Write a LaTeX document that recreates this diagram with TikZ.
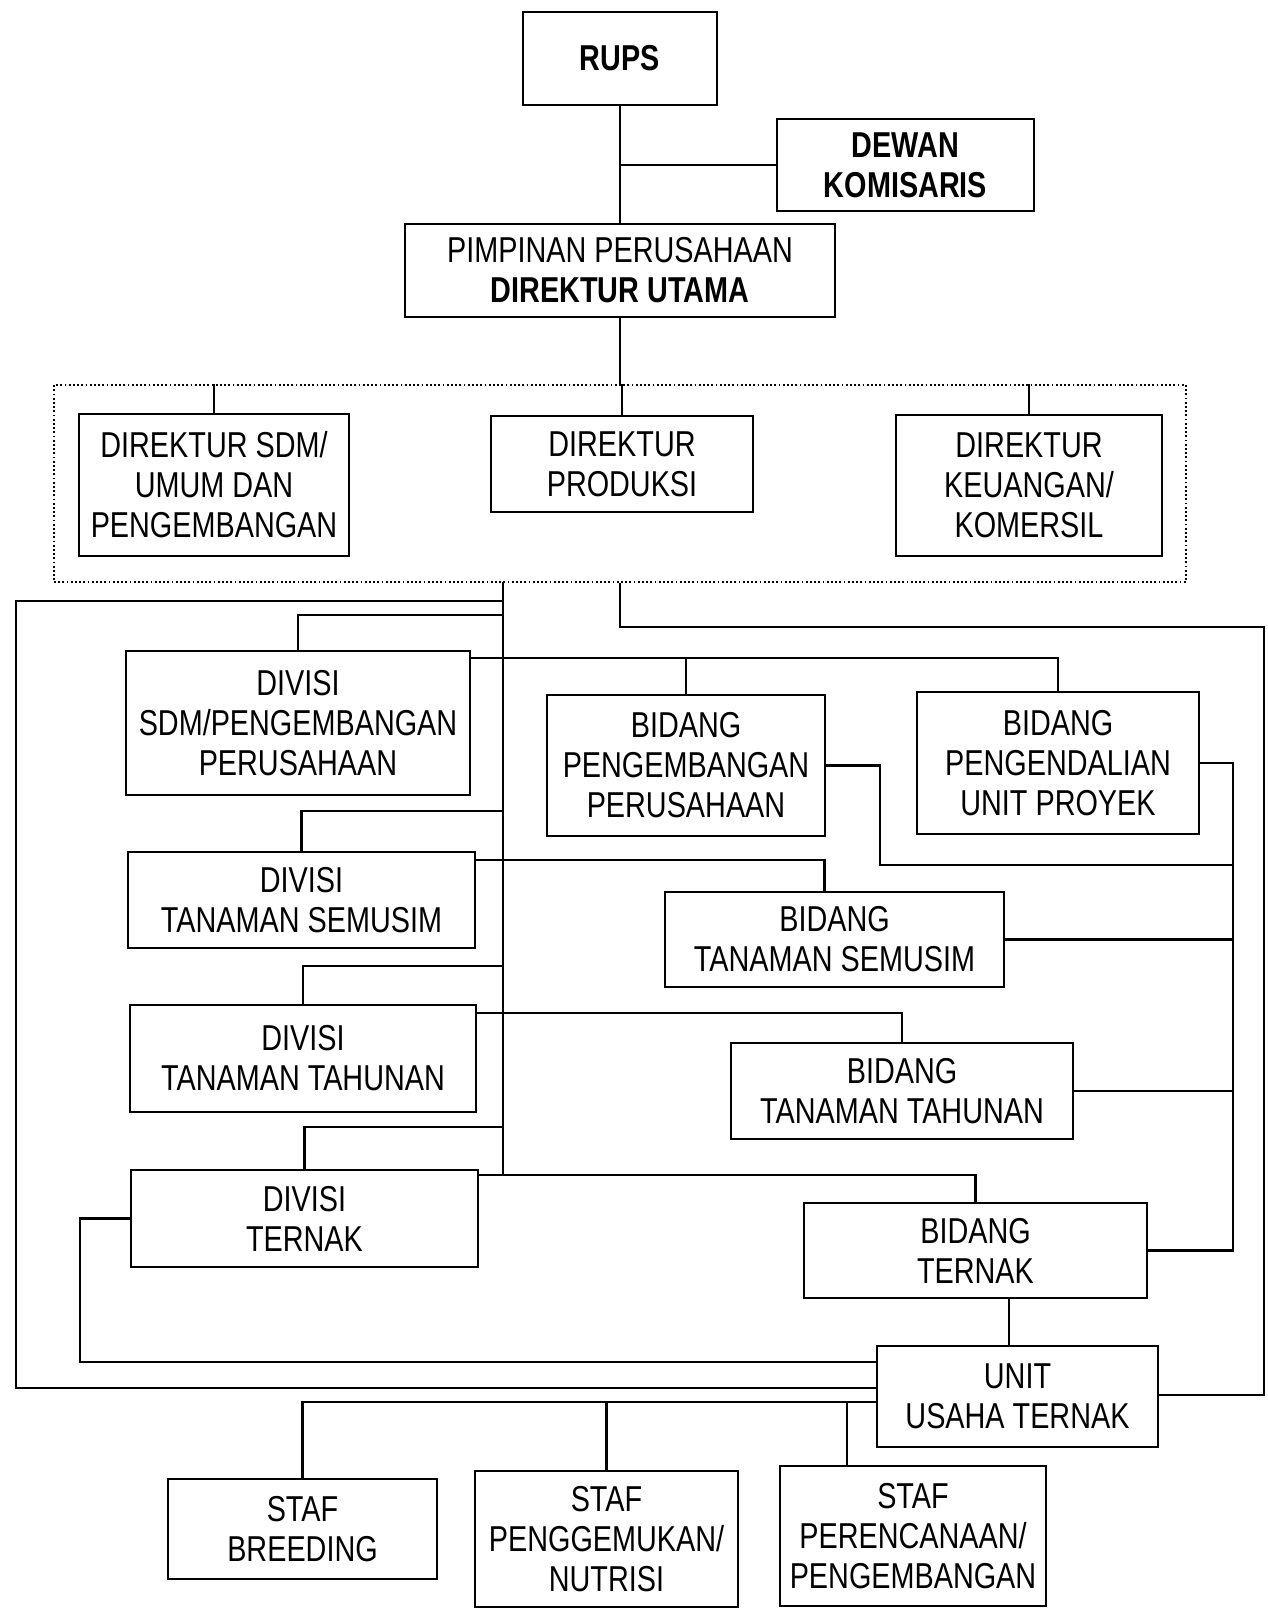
\documentclass[tikz,border=0pt]{standalone}
\usepackage{fontspec}
\setmainfont{Liberation Sans}[FakeStretch=0.8]
\begin{document}
\begin{tikzpicture}[x=1pt,y=-1pt,
  box/.style={draw, line width=2.6pt, inner sep=0pt, align=center, font=\fontsize{36}{40}\selectfont},
  boldbox/.style={box, font=\fontsize{36}{40}\selectfont\bfseries},
  sz/.style 2 args={minimum width=#1pt, minimum height=#2pt},
  conn/.style={line width=2.5pt},
  grpbox/.style={draw, line width=1.8pt, dash pattern=on 1.8pt off 2.4pt, inner sep=0pt}]
\fill[white] (0,0) rectangle (1268,1609);
\useasboundingbox (0,0) rectangle (1268,1609);

% top level
\node[boldbox,sz={194}{93}] (rups) at (620,58.5) {RUPS};
\node[boldbox,sz={257}{92}] (dewan) at (905.5,165) {DEWAN\\KOMISARIS};
\node[box,sz={430}{93}] (pimp) at (620,270.5) {PIMPINAN PERUSAHAAN\\\textbf{DIREKTUR UTAMA}};

% directors group
\node[grpbox,sz={1132}{197}] (grp) at (620,483.5) {};
\node[box,sz={270}{142}] (dsdm) at (214,485) {DIREKTUR SDM/\\UMUM DAN\\PENGEMBANGAN};
\node[box,sz={262}{96}] (dprod) at (622,464) {DIREKTUR\\PRODUKSI};
\node[box,sz={266}{141}] (dkeu) at (1029,485.5) {DIREKTUR\\KEUANGAN/\\KOMERSIL};

% divisions and fields
\node[box,sz={344}{144}] (divsdm) at (298,723) {DIVISI\\SDM/PENGEMBANGAN\\PERUSAHAAN};
\node[box,sz={278}{141}] (bpeng) at (686,765.5) {BIDANG\\PENGEMBANGAN\\PERUSAHAAN};
\node[box,sz={282}{142}] (bpend) at (1058,763) {BIDANG\\PENGENDALIAN\\UNIT PROYEK};
\node[box,sz={347}{96}] (divsem) at (301.5,900) {DIVISI\\TANAMAN SEMUSIM};
\node[box,sz={339}{95}] (bsem) at (834.5,939.5) {BIDANG\\TANAMAN SEMUSIM};
\node[box,sz={346}{107}] (divtah) at (303,1058.5) {DIVISI\\TANAMAN TAHUNAN};
\node[box,sz={342}{96}] (btah) at (902,1091) {BIDANG\\TANAMAN TAHUNAN};
\node[box,sz={347}{97}] (divter) at (304.5,1218.5) {DIVISI\\TERNAK};
\node[box,sz={343}{95}] (bter) at (975.5,1250.5) {BIDANG\\TERNAK};
\node[box,sz={281}{101}] (unit) at (1017.5,1396.5) {UNIT\\USAHA TERNAK};

% staff
\node[box,sz={269}{100}] (sbreed) at (302.5,1529) {STAF\\BREEDING};
\node[box,sz={263}{136}] (sgem) at (606.5,1539) {STAF\\PENGGEMUKAN/\\NUTRISI};
\node[box,sz={266}{140}] (sper) at (913,1536) {STAF\\PERENCANAAN/\\PENGEMBANGAN};

% named bend points
\coordinate (b0) at (503,582);
\coordinate (oL1) at (16,601);
\coordinate (oL2) at (16,1388);
\coordinate (lp) at (80,1362);
\coordinate (rO1) at (1264,627);
\coordinate (rO2) at (1264,1395);
\coordinate (rbx) at (1233,0);
\coordinate (pk) at (880,865);
\coordinate (sp) at ([xshift=-66pt]sper.north);
\coordinate (bs) at ([xshift=-10pt]bsem.north);
\coordinate (bu) at ([xshift=-8.5pt]unit.north);

% top connectors
\draw[conn] (rups.south) -- (pimp.north);
\draw[conn] (rups.south |- dewan.west) -- (dewan.west);
\draw[conn] (pimp.south) -- (grp.north);
\draw[conn] (dsdm.north) -- (dsdm.north |- grp.north);
\draw[conn] (dprod.north) -- (dprod.north |- grp.north);
\draw[conn] (dkeu.north) -- (dkeu.north |- grp.north);

% left bus
\draw[conn] (b0) -- (b0 |- 0,1175);
\draw[conn] (b0 |- oL1) -- (oL1) -- (oL2) -- (unit.west |- oL2);
\draw[conn] (divsdm.north) |- (b0 |- 0,615);
\draw[conn] (divsem.north) |- (b0 |- 0,811);
\draw[conn] (divtah.north) |- (b0 |- 0,966);
\draw[conn] (divter.north) |- (b0 |- 0,1127);

% division to field lines
\draw[conn] (divsdm.east |- 0,658) -| (bpend.north);
\draw[conn] (bpeng.north) -- (bpeng.north |- 0,658);
\draw[conn] (divsem.east |- 0,860) -| (bs);
\draw[conn] (divtah.east |- 0,1013) -| (btah.north);
\draw[conn] (divter.east |- 0,1175) -| (bter.north);

% right bus of fields
\draw[conn] (bpend.east) -- (bpend.east -| rbx) |- (bter.east);
\draw[conn] (bpeng.east) -| (pk) -- (pk -| rbx);
\draw[conn] (bsem.east) -- (bsem.east -| rbx);
\draw[conn] (btah.east) -- (btah.east -| rbx);

% production outer loop
\draw[conn] (grp.south) |- (rO1) -- (rO2) -- (unit.east |- rO2);

% livestock
\draw[conn] (bu) -- (bu |- bter.south);
\draw[conn] (divter.west) -| (lp) -- (unit.west |- lp);

% staff bus
\draw[conn] (unit.west |- 0,1402) -| (sbreed.north);
\draw[conn] (sgem.north) -- (sgem.north |- 0,1402);
\draw[conn] (sp) -- (sp |- 0,1402);
\end{tikzpicture}
\end{document}
